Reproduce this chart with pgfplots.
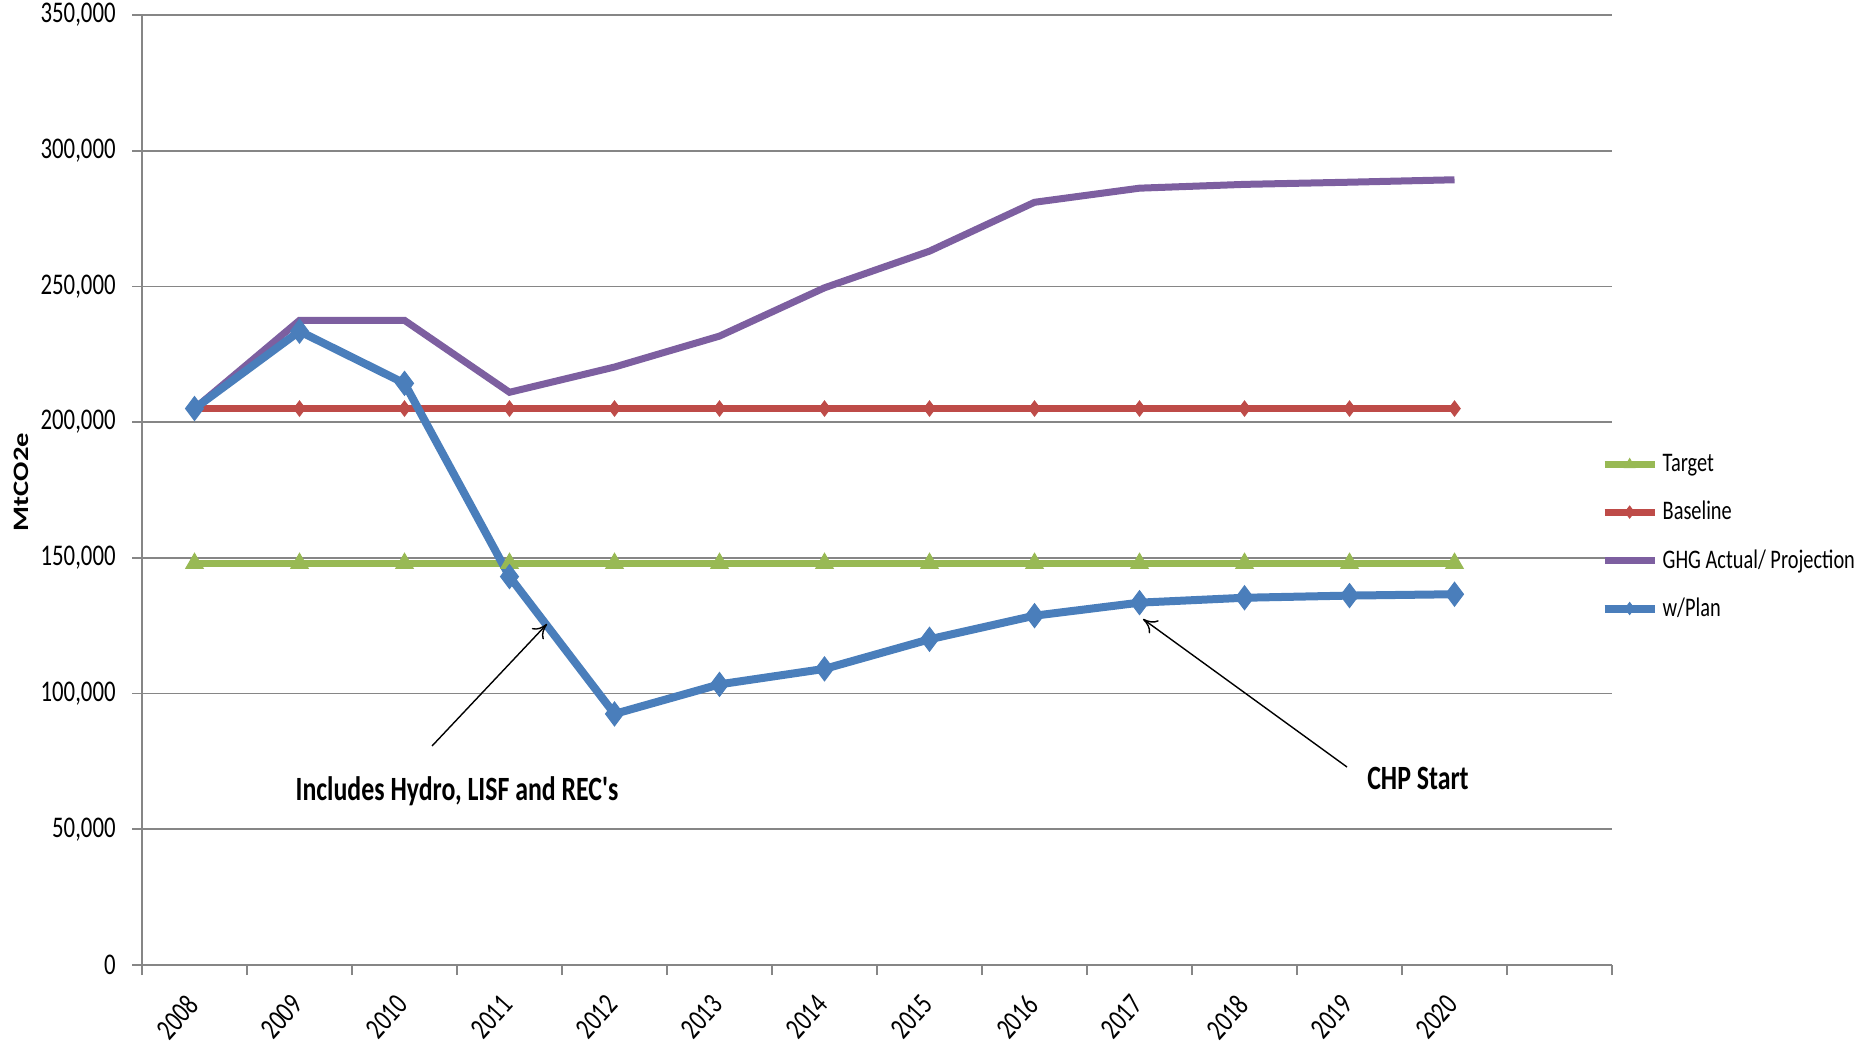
\documentclass[border=0pt]{standalone}
\usepackage{fontspec}
\setmainfont[FakeStretch=0.76]{Carlito}
\newfontfamily\ylabfont[FakeStretch=1.3]{Carlito}
\newfontfamily\annotfont[FakeStretch=0.76, Ligatures=TeXOff]{Carlito}
\usepackage{pgfplots}
\pgfplotsset{compat=1.18}
\usetikzlibrary{arrows.meta}
\definecolor{cBlue}{HTML}{4A7EBB}
\definecolor{cRed}{HTML}{BE4B48}
\definecolor{cGreen}{HTML}{98B954}
\definecolor{cPurple}{HTML}{7D5FA0}
\definecolor{cGrid}{RGB}{134,134,134}
\begin{document}
\begin{tikzpicture}
\path[use as bounding box] (0,0) rectangle (928pt,525.5pt);
\begin{axis}[
  at={(71pt,43pt)}, anchor=south west,
  scale only axis, width=735pt, height=475pt,
  xmin=-0.5, xmax=13.5, ymin=0, ymax=350000,
  axis x line=bottom, axis y line=left,
  axis line style={cGrid, line width=1.2pt, -},
  xtick={-0.5,0.5,...,13.5},
  x tick label as interval,
  xticklabels={2008,2009,2010,2011,2012,2013,2014,2015,2016,2017,2018,2019,2020,{}},
  xticklabel style={rotate=48, anchor=north east, font=\fontsize{15}{18}\selectfont, inner sep=0pt, yshift=-2.3pt, xshift=-9.7pt},
  ytick={0,50000,100000,150000,200000,250000,300000,350000},
  yticklabels={0,{50,000},{100,000},{150,000},{200,000},{250,000},{300,000},{350,000}},
  yticklabel style={font=\fontsize{15}{18}\selectfont, inner sep=0pt, xshift=-8pt},
  tick align=outside,
  major tick length=5pt,
  tick style={cGrid, line width=0.8pt},
  ymajorgrids, grid style={cGrid, line width=0.8pt},
  ylabel={\ylabfont\bfseries MtCO2e},
  ylabel style={font=\fontsize{11}{13}\selectfont, at={(rel axis cs:0,0.5)}, anchor=center, yshift=60.5pt, xshift=4pt},
  clip=false,
  legend style={draw=none, fill=none, at={(rel axis cs:0.992,0.542)}, anchor=north west,
    font=\fontsize{13.4}{16}\selectfont, row sep=9.3pt, inner sep=0pt},
  legend cell align=left,
  legend image code/.code={\draw[mark repeat=2, mark phase=2, #1, mark size=3pt] plot coordinates {(0pt,0pt) (12.5pt,0pt) (25pt,0pt)};},
]
\addplot[cGreen, line width=3.5pt, mark=triangle*, mark size=5pt, mark options={line width=0.5pt}] coordinates {
(0,148000)(1,148000)(2,148000)(3,148000)(4,148000)(5,148000)(6,148000)(7,148000)(8,148000)(9,148000)(10,148000)(11,148000)(12,148000)};
\addlegendentry{Target}
\addplot[cRed, line width=3.5pt, mark=diamond*, mark size=3.8pt, mark options={line width=0.5pt}] coordinates {
(0,205000)(1,205000)(2,205000)(3,205000)(4,205000)(5,205000)(6,205000)(7,205000)(8,205000)(9,205000)(10,205000)(11,205000)(12,205000)};
\addlegendentry{Baseline}
\addplot[cPurple, line width=3.5pt] coordinates {
(0,205000)(1,237500)(2,237500)(3,211000)(4,220300)(5,231700)(6,249500)(7,263000)(8,281000)(9,286200)(10,287600)(11,288400)(12,289300)};
\addlegendentry{GHG Actual/ Projection}
\addplot[cBlue, line width=4pt, mark=diamond*, mark size=6pt, mark options={line width=0.5pt}] coordinates {
(0,205000)(1,233500)(2,214300)(3,143100)(4,92500)(5,103400)(6,109100)(7,120000)(8,128700)(9,133500)(10,135300)(11,136100)(12,136600)};
\addlegendentry{w/Plan}
\draw[black, line width=0.7pt, -{To[length=7pt,width=8pt]}] (axis cs:2.262,80684) -- (axis cs:3.357,125632);
\draw[black, line width=0.7pt, -{To[length=7pt,width=8pt]}] (axis cs:10.976,72947) -- (axis cs:9.033,127474);
\node[font=\fontsize{17}{20}\selectfont\annotfont\bfseries] at (axis cs:2.5,64105) {Includes Hydro, LISF and REC's};
\node[font=\fontsize{17}{20}\selectfont\annotfont\bfseries] at (axis cs:11.652,68895) {CHP Start};
\end{axis}
\end{tikzpicture}
\end{document}
